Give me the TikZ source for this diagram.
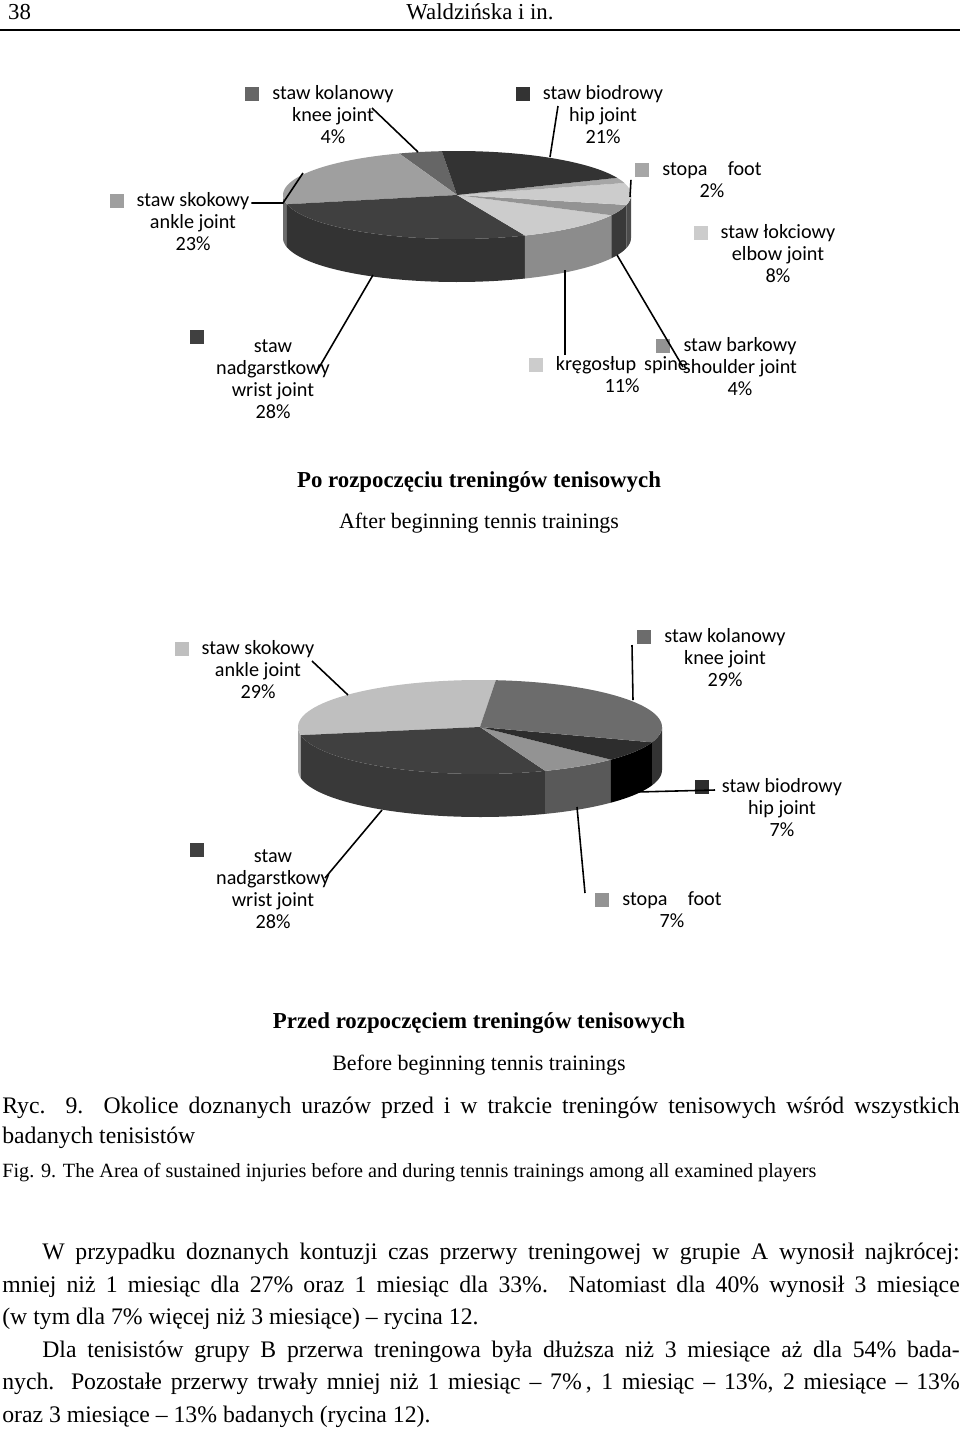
\documentclass[tikz,border=0pt]{standalone}
\usepackage{fontspec}
\setmainfont{Liberation Serif}
\newfontfamily\chartfont{Carlito}
\usetikzlibrary{positioning}

% top and side of one slice: {cx}{cy}{rx}{ry}{from}{to}{colour}
\newcommand{\slicetop}[7]{%
  \fill[#7] (#1,#2) -- plot[domain=#5:#6,samples=40] ({#1+#3*cos(\x)},{#2-#4*sin(\x)}) -- cycle;}
\newcommand{\sliceside}[8]{%
  \fill[#8] plot[domain=#5:#6,samples=40] ({#1+#3*cos(\x)},{#2-#4*sin(\x)})
    -- plot[domain=#6:#5,samples=40] ({#1+#3*cos(\x)},{#2-#4*sin(\x)+#7}) -- cycle;}

\begin{document}
\begin{tikzpicture}[x=0.02cm,y=-0.02cm]
\tikzset{
  % legend label beside its square
  lab/.style={font=\chartfont\fontsize{11.5}{12.5}\selectfont, align=center, inner sep=1pt},
  mark/.style={fill=#1, minimum size=8pt, inner sep=0pt},
  lead/.style={black, line width=0.9pt},
  ctitle/.style={font=\fontsize{13}{15}\selectfont\bfseries},
  csub/.style={font=\fontsize{12.5}{15}\selectfont},
}
\useasboundingbox (0,0) rectangle (960,1437);

% header
\node[anchor=west, font=\fontsize{13}{15}\selectfont] (pg) at (2,12) {38};
\node[font=\fontsize{13}{15}\selectfont] (hd) at (480,12) {Waldzińska i in.};
\draw[line width=0.6pt] (0,30) -- (960,30);

%pie after beginning
\sliceside{457}{195}{174}{44}{180}{192.2}{43}{gray!85!black}
\sliceside{457}{195}{174}{44}{192.2}{293}{43}{gray!40!black}
\sliceside{457}{195}{174}{44}{293}{332.6}{43}{gray!90}
\sliceside{457}{195}{174}{44}{332.6}{347}{43}{gray!45!black}
\sliceside{457}{195}{174}{44}{347}{360}{43}{gray!60!black}
\slicetop{457}{195}{174}{44}{95}{109.4}{gray!80!black}
\slicetop{457}{195}{174}{44}{109.4}{192.2}{gray!75}
\slicetop{457}{195}{174}{44}{192.2}{293}{gray!50!black}
\slicetop{457}{195}{174}{44}{293}{332.6}{gray!40}
\slicetop{457}{195}{174}{44}{332.6}{347}{gray!85}
\slicetop{457}{195}{174}{44}{347}{375.8}{gray!40}
\slicetop{457}{195}{174}{44}{375.8}{383}{gray!70}
\slicetop{457}{195}{174}{44}{383}{455}{gray!40!black}

\node[lab] (knee1) at (333,115) {staw kolanowy\\knee joint\\4\%};
\node[mark=gray!80!black, left=6pt of knee1.north west, yshift=-6pt] (knee1m) {};
\node[lab] (hip1) at (603,115) {staw biodrowy\\hip joint\\21\%};
\node[mark=gray!40!black, left=6pt of hip1.north west, yshift=-6pt] (hip1m) {};
\node[lab] (foot1) at (712,180) {stopa\hspace{1em}foot\\2\%};
\node[mark=gray!70, left=6pt of foot1.north west, yshift=-6pt] (foot1m) {};
\node[lab] (elbow1) at (778,254) {staw łokciowy\\elbow joint\\8\%};
\node[mark=gray!40, left=6pt of elbow1.north west, yshift=-6pt] (elbow1m) {};
\node[lab] (ankle1) at (193,222) {staw skokowy\\ankle joint\\23\%};
\node[mark=gray!75, left=6pt of ankle1.north west, yshift=-6pt] (ankle1m) {};
\node[lab] (wrist1) at (273,379) {staw\\nadgarstkowy\\wrist joint\\28\%};
\node[mark=gray!50!black] (wrist1m) at (197,337) {};
\node[lab] (spine1) at (622,375) {kręgosłup\hspace{0.4em}spine\\11\%};
\node[mark=gray!40, left=6pt of spine1.north west, yshift=-6pt] (spine1m) {};
\node[lab] (shoulder1) at (740,367) {staw barkowy\\shoulder joint\\4\%};
\node[mark=gray!85, left=6pt of shoulder1.north west, yshift=-6pt] (shoulder1m) {};

\coordinate (k1) at (418,152);
\coordinate (h1) at (550,157);
\coordinate (f1) at (630,197);
\coordinate (a1) at (303,173);
\coordinate (a1b) at (283,203);
\coordinate (w1) at (373,275);
\coordinate (s1) at (565,270);
\coordinate (sh1) at (617,255);
\draw[lead] (372,108) -- (k1);
\draw[lead] (558,106) -- (h1);
\draw[lead] (foot1m.south west) ++(-4,2) -- (f1);
\draw[lead] (ankle1.east |- a1b) -- (a1b) -- (a1);
\draw[lead] (317,371) -- (w1);
\draw[lead] (565,355) -- (s1);
\draw[lead] (683,367) -- (sh1);

\node[ctitle] (t1) at (479,482) {Po rozpoczęciu treningów tenisowych};
\node[csub] (s1t) at (479,523) {After beginning tennis trainings};

%pie before beginning
\sliceside{480}{727}{182}{47}{180}{190}{43}{gray!70}
\sliceside{480}{727}{182}{47}{190}{291}{43}{gray!45!black}
\sliceside{480}{727}{182}{47}{291}{316}{43}{gray!70!black}
\sliceside{480}{727}{182}{47}{316}{341}{43}{black}
\sliceside{480}{727}{182}{47}{341}{360}{43}{gray!40!black}
\slicetop{480}{727}{182}{47}{85}{190}{gray!50}
\slicetop{480}{727}{182}{47}{190}{291}{gray!50!black}
\slicetop{480}{727}{182}{47}{291}{316}{gray!85}
\slicetop{480}{727}{182}{47}{316}{341}{gray!35!black}
\slicetop{480}{727}{182}{47}{341}{445}{gray!85!black}

\node[lab] (ankle2) at (258,670) {staw skokowy\\ankle joint\\29\%};
\node[mark=gray!50, left=6pt of ankle2.north west, yshift=-6pt] (ankle2m) {};
\node[lab] (knee2) at (725,658) {staw kolanowy\\knee joint\\29\%};
\node[mark=gray!85!black, left=6pt of knee2.north west, yshift=-6pt] (knee2m) {};
\node[lab] (hip2) at (782,808) {staw biodrowy\\hip joint\\7\%};
\node[mark=gray!35!black, left=6pt of hip2.north west, yshift=-6pt] (hip2m) {};
\node[lab] (wrist2) at (273,889) {staw\\nadgarstkowy\\wrist joint\\28\%};
\node[mark=gray!50!black] (wrist2m) at (197,850) {};
\node[lab] (foot2) at (672,910) {stopa\hspace{1em}foot\\7\%};
\node[mark=gray!85, left=6pt of foot2.north west, yshift=-6pt] (foot2m) {};

\coordinate (a2) at (348,695);
\coordinate (k2) at (633,700);
\coordinate (h2) at (637,792);
\coordinate (w2) at (382,810);
\coordinate (f2) at (577,807);
\draw[lead] (312,661) -- (a2);
\draw[lead] (632,645) -- (k2);
\draw[lead] (715,790) -- (h2);
\draw[lead] (325,878) -- (w2);
\draw[lead] (585,893) -- (f2);

\node[ctitle] (t2) at (479,1023) {Przed rozpoczęciem treningów tenisowych};
\node[csub] (s2t) at (479,1065) {Before beginning tennis trainings};

% caption and text
\node[anchor=north west, inner sep=0pt, font=\fontsize{13.5}{17}\selectfont] (cap) at (2,1097)
  {\parbox{19.15cm}{Ryc. 9. Okolice doznanych urazów przed i w trakcie treningów tenisowych wśród wszystkich badanych tenisistów}};
\node[anchor=north west, inner sep=0pt, font=\fontsize{11.5}{14}\selectfont] (fig) at (2,1163)
  {Fig. 9. The Area of sustained injuries before and during tennis trainings among all examined players};
\node[anchor=north west, inner sep=0pt, font=\fontsize{13.5}{18.5}\selectfont] (body) at (2,1243)
  {\parbox{19.15cm}{\parindent=0.8cm\indent W przypadku doznanych kontuzji czas przerwy treningowej w grupie A wynosił najkrócej:\linebreak mniej niż 1 miesiąc dla 27\% oraz 1 miesiąc dla 33\%. Natomiast dla 40\% wynosił 3 miesiące\linebreak (w tym dla 7\% więcej niż 3 miesiące) -- rycina 12.\par
  \parindent=0.8cm Dla tenisistów grupy B przerwa treningowa była dłuższa niż 3 miesiące aż dla 54\% bada-\linebreak nych. Pozostałe przerwy trwały mniej niż 1 miesiąc -- 7\%\,, 1 miesiąc -- 13\%, 2 miesiące -- 13\%\linebreak oraz 3 miesiące -- 13\% badanych (rycina 12).}};
\end{tikzpicture}
\end{document}
